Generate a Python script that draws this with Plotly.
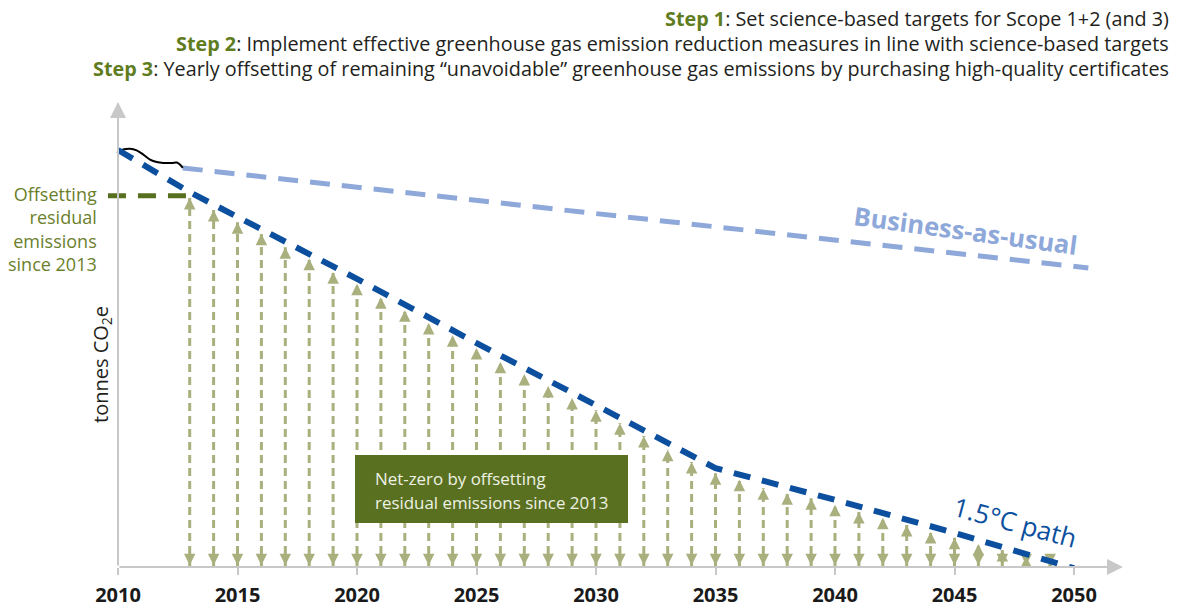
import plotly.graph_objects as go

# ---------------- data (index units: 2010 emissions = 100) -------------
tick_years = [2010, 2015, 2020, 2025, 2030, 2035, 2040, 2045, 2050]
tick_labels = ["2010", "2015", "2020", "2025", "2030", "2035", "2040", "2045", "2050"]

# historic emissions (hand-drawn squiggle 2010-2013)
hist_years = [2009.97, 2010.22, 2010.50, 2010.78, 2011.06, 2011.34, 2011.62, 2011.90, 2012.25, 2012.46, 2012.59, 2012.71]
hist_vals = [99.4, 100.1, 100.3, 99.9, 98.9, 97.7, 97.1, 96.9, 96.9, 97.0, 96.5, 95.7]

# business-as-usual projection
bau_years = [2012.71, 2050.6]
bau_vals = [95.7, 71.7]

# 1.5 °C path
path_years = [2010, 2013, 2020, 2025, 2030, 2035, 2040, 2045, 2050]
path_vals = [100, 89.9, 69.1, 53.7, 38.8, 23.7, 16.1, 8.2, -0.3]

# yearly offsetting of residual emissions (arrow heights)
offset_years = list(range(2013, 2050))
offset_vals = [88.5, 85.6, 82.7, 79.9, 76.7, 73.9, 70.7, 67.9, 64.7, 61.6, 58.5, 55.6, 52.5,
               49.2, 46.3, 43.4, 40.5, 37.6, 34.5, 31.4, 28.1, 25.2, 22.5, 20.9, 18.9, 17.7,
               16.5, 14.9, 13.2, 11.8, 10.1, 8.4, 7.0, 5.5, 4.1, 2.6, 1.2]

# level of residual emissions in 2013 (green reference line)
ref_years = [2009.58, 2013.1]
ref_vals = [89.0, 89.0]

# ---------------- styling ----------------
FONT = "Open Sans"
GREEN_STEP = "#5f7d1f"
GREEN_LABEL = "#6b7f2c"
GREEN_BOX = "#5a7021"
GREEN_REF = "#57701f"
ARROW = "#a9b07e"
BLUE = "#0c4f9e"
BAU = "#8ea8da"
GRAY = "#c8c8c8"
DARK = "#231f20"

W, H = 1180, 610
B = 43  # bottom margin: baseline sits at y=567 px
px_per_year = 23.9
px_per_unit = 4.17
x0 = 2010 - 118 / px_per_year
x1 = x0 + W / px_per_year
y1 = (H - B) / px_per_unit

fig = go.Figure()

# vertical dashed offset lines
lx, ly = [], []
for yr, v in zip(offset_years, offset_vals):
    lx += [yr, yr, None]
    ly += [0, v, None]
fig.add_trace(go.Scatter(x=lx, y=ly, mode="lines",
                         line=dict(color=ARROW, width=3, dash="8px,5px"),
                         hoverinfo="skip"))
# arrow heads
fig.add_trace(go.Scatter(x=offset_years, y=offset_vals, mode="markers",
                         marker=dict(symbol="arrow-up", size=11.5, color=ARROW, line=dict(width=0)),
                         hoverinfo="skip"))
fig.add_trace(go.Scatter(x=offset_years, y=[0.4] * len(offset_years), mode="markers",
                         marker=dict(symbol="arrow-down", size=11.5, color=ARROW, line=dict(width=0)),
                         hoverinfo="skip"))

# business as usual
fig.add_trace(go.Scatter(x=bau_years, y=bau_vals, mode="lines",
                         line=dict(color=BAU, width=5, dash="20px,12px"), hoverinfo="skip"))
# historic squiggle
fig.add_trace(go.Scatter(x=hist_years, y=hist_vals, mode="lines",
                         line=dict(color="black", width=2, shape="spline"), hoverinfo="skip"))
# 1.5 °C path
fig.add_trace(go.Scatter(x=path_years, y=path_vals, mode="lines",
                         line=dict(color=BLUE, width=6, dash="17px,12px"), hoverinfo="skip"))
# green reference
fig.add_trace(go.Scatter(x=ref_years, y=ref_vals, mode="lines",
                         line=dict(color=GREEN_REF, width=5, dash="18px,12px"), hoverinfo="skip"))

def px(xp):
    return xp / W

def py(yp):
    return (H - B - yp) / (H - B)

ann = []
# axes arrows
ann.append(dict(x=2052.05, y=0, ax=2010, ay=0, xref="x", yref="y", axref="x", ayref="y",
                text="", showarrow=True, arrowhead=2, arrowsize=1.6, arrowwidth=2, arrowcolor=GRAY))
ann.append(dict(x=2010, y=111.5, ax=2010, ay=0, xref="x", yref="y", axref="x", ayref="y",
                text="", showarrow=True, arrowhead=2, arrowsize=1.6, arrowwidth=2, arrowcolor=GRAY))

steps = [
    ("Step 1", ": Set science-based targets for Scope 1+2 (and 3)", 18),
    ("Step 2", ": Implement effective greenhouse gas emission reduction measures in line with science-based targets", 43),
    ("Step 3", ": Yearly offsetting of remaining “unavoidable” greenhouse gas emissions by purchasing high-quality certificates", 68),
]
for s, rest, yp in steps:
    ann.append(dict(x=px(1171), y=py(yp), xref="paper", yref="paper", xanchor="right", yanchor="middle",
                    text=f"<b><span style='color:{GREEN_STEP}'>{s}</span></b>{rest}", showarrow=False,
                    font=dict(family=FONT, size=19.8, color=DARK)))

ann.append(dict(x=px(99), y=py(229), xref="paper", yref="paper", xanchor="right", yanchor="middle",
                align="right", text="Offsetting<br>residual<br>emissions<br>since 2013", showarrow=False,
                font=dict(family=FONT, size=18, color=GREEN_LABEL)))

ann.append(dict(x=px(101), y=py(365), xref="paper", yref="paper", xanchor="center", yanchor="middle",
                text="tonnes CO<sub>2</sub>e", textangle=-90, showarrow=False,
                font=dict(family=FONT, size=20, color=DARK)))

ann.append(dict(x=px(965), y=py(230), xref="paper", yref="paper", xanchor="center", yanchor="middle",
                text="<b>Business-as-usual</b>", textangle=7.6, showarrow=False,
                font=dict(family=FONT, size=25.5, color=BAU)))

ann.append(dict(x=px(1015), y=py(522), xref="paper", yref="paper", xanchor="center", yanchor="middle",
                text="1.5°C path", textangle=15, showarrow=False,
                font=dict(family=FONT, size=26, color=BLUE)))

for t, yp in [("Net-zero by offsetting", 478), ("residual emissions since 2013", 502)]:
    ann.append(dict(x=px(373), y=py(yp), xref="paper", yref="paper", xanchor="left", yanchor="middle",
                    text=t, showarrow=False, font=dict(family=FONT, size=16.9, color="#eef2e4")))

shapes = [dict(type="rect", xref="paper", yref="paper", x0=px(355), x1=px(628), y0=py(523), y1=py(455),
               fillcolor=GREEN_BOX, line=dict(width=0), layer="above")]

fig.update_layout(
    width=W, height=H,
    margin=dict(l=0, r=0, t=0, b=B),
    paper_bgcolor="white", plot_bgcolor="white",
    showlegend=False,
    annotations=ann,
    shapes=shapes,
    xaxis=dict(range=[x0, x1], showgrid=False, zeroline=False, showline=False,
               tickmode="array", tickvals=tick_years, ticktext=tick_labels,
               ticks="outside", ticklen=7, tickwidth=2, tickcolor=GRAY,
               ticklabelstandoff=3,
               tickfont=dict(family=FONT, size=20, color="#1a1a1a", weight="bold"),
               fixedrange=True),
    yaxis=dict(range=[0, y1], showgrid=False, zeroline=False, showline=False,
               showticklabels=False, ticks="", fixedrange=True),
)

fig.write_html("out.html", config={"displayModeBar": False},
               post_script="document.body.style.margin='0';document.body.style.overflow='hidden';")
